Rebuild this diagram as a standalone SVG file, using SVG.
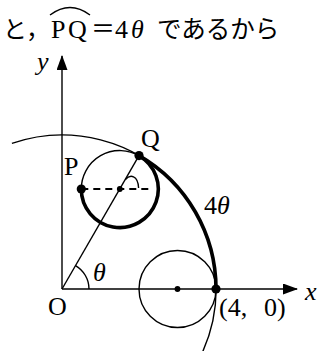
<svg xmlns="http://www.w3.org/2000/svg" width="321" height="351" viewBox="0 0 321 351">
<style>
.thin{fill:none;stroke:#000;stroke-width:1.4}
.thick{fill:none;stroke:#000;stroke-width:3.6}
.dash{fill:none;stroke:#000;stroke-width:1.9;stroke-dasharray:7 5}
.dot{fill:#000}
.lbl{font-family:"Liberation Serif","Times New Roman",serif;font-size:26px;fill:#000}
.it{font-style:italic}
.jp{font-family:"Noto Sans CJK JP","Noto Sans CJK SC",sans-serif;fill:#000}
</style>
<defs>
<marker id="arr" markerUnits="userSpaceOnUse" markerWidth="15" markerHeight="12" refX="14" refY="5.5" orient="auto">
<path d="M0,0 L15,5.5 L0,11 z" fill="#000"/>
</marker>
</defs>
<rect width="321" height="351" fill="#fff"/>
<g id="header">
<text class="jp" x="3" y="38" font-size="24">と，</text>
<path class="thin" d="M50 15 Q70 0 90 15" stroke-width="1.3"/>
<text class="lbl" y="38" font-size="28"><tspan x="51">P</tspan><tspan x="68">Q</tspan></text>
<text class="jp" x="91" y="37" font-size="24">＝</text>
<text class="lbl" y="38" font-size="26"><tspan x="115">4</tspan><tspan x="131" class="it">θ</tspan></text>
<text class="jp" x="157" y="38" font-size="24.5">であるから</text>
</g>
<g id="connectors">
<line class="thin" x1="62" y1="289" x2="62" y2="56" stroke-width="1.5" marker-end="url(#arr)"/>
<line class="thin" x1="62" y1="289" x2="297" y2="289" stroke-width="1.5" marker-end="url(#arr)"/>
<line class="thin" x1="62" y1="289" x2="139" y2="155.6"/>
<line class="dash" x1="81.3" y1="189" x2="151" y2="189"/>
</g>
<g id="big-circle">
<path class="thin" d="M11.9 143.4 A154 154 0 0 1 201.6 354.1"/>
<path class="thick" d="M139 155.6 A154 154 0 0 1 216 289"/>
</g>
<g id="rolling-circle">
<path class="thin" d="M139 155.7 A38.5 38.5 0 0 0 81.3 189"/>
<path class="thick" d="M81.3 189 A38.5 38.5 0 1 0 139 155.7"/>
<path class="thin" d="M125.4 179.6 C130 174, 138 175, 138.6 188" stroke-width="1.9"/>
<circle class="dot" cx="119.8" cy="189" r="2.9"/>
</g>
<g id="fixed-circle">
<circle class="thin" cx="177.5" cy="289" r="38.5"/>
<circle class="dot" cx="177.5" cy="289" r="2.9"/>
</g>
<g id="angle-theta">
<path class="thin" d="M89 289 A27 27 0 0 0 75.5 265.6" stroke-width="2.2"/>
</g>
<g id="point-P">
<circle class="dot" cx="81.3" cy="189" r="4.6"/>
<text class="lbl" x="64" y="175">P</text>
</g>
<g id="point-Q">
<circle class="dot" cx="139" cy="155.6" r="4.6"/>
<text class="lbl" x="141" y="147">Q</text>
</g>
<g id="point-A">
<circle class="dot" cx="216" cy="289" r="4.6"/>
<text class="lbl" font-size="24" y="316"><tspan x="219">(4,</tspan><tspan x="264">0)</tspan></text>
</g>
<g id="labels">
<text class="lbl it" x="37" y="70" font-size="25">y</text>
<text class="lbl it" x="305" y="300" font-size="25">x</text>
<text class="lbl" x="48" y="315">O</text>
<text class="lbl it" x="93" y="281">θ</text>
<text class="lbl" x="204" y="214"><tspan>4</tspan><tspan class="it">θ</tspan></text>
</g>
</svg>
